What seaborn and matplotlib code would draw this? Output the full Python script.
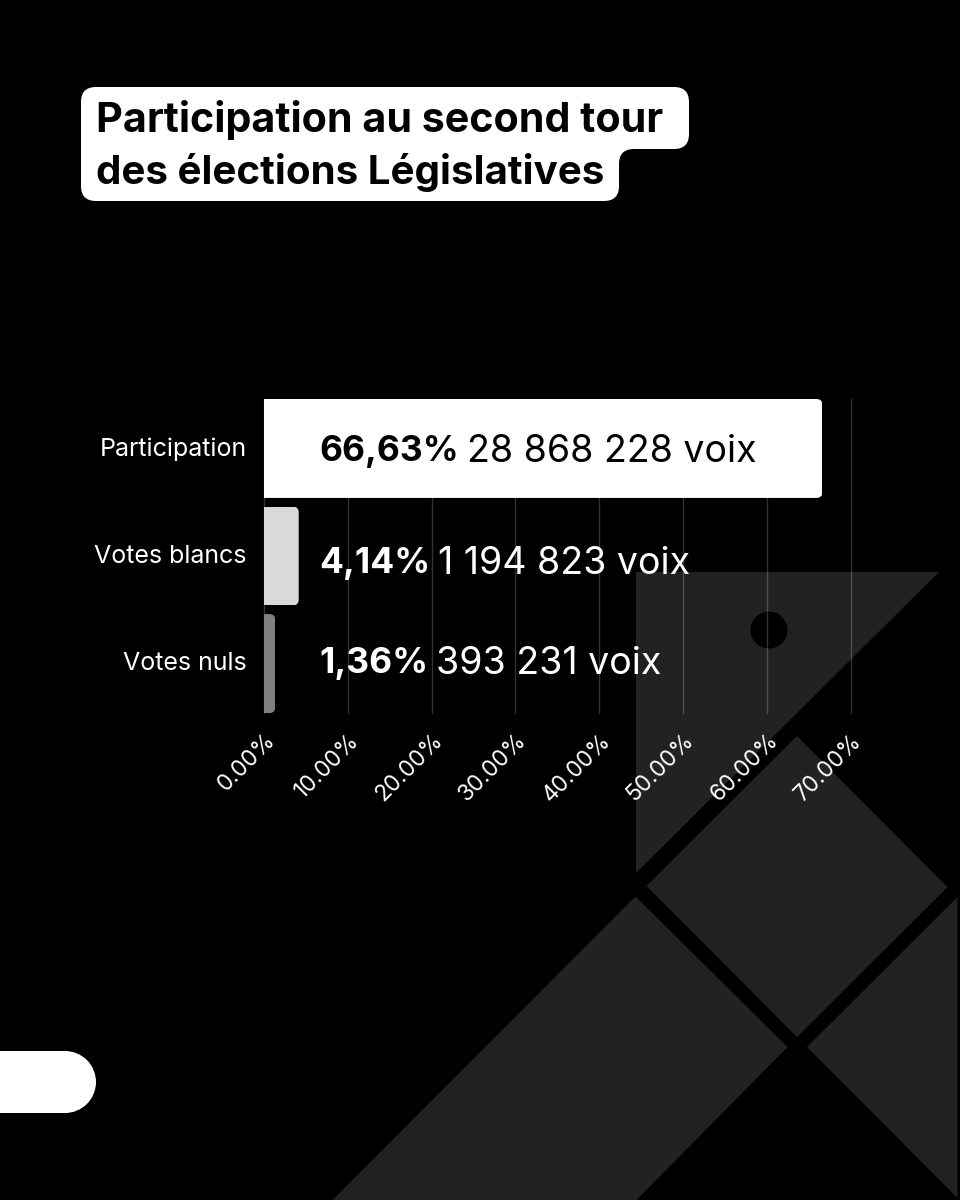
import matplotlib
matplotlib.use("Agg")
import matplotlib.pyplot as plt
import seaborn as sns
import pandas as pd
from matplotlib.patches import Polygon, Circle, FancyBboxPatch, PathPatch, Rectangle
from matplotlib.path import Path
from matplotlib.transforms import IdentityTransform, ScaledTranslation

categories = ["Participation", "Votes blancs", "Votes nuls"]
values = [66.63, 4.14, 1.36]
percent_labels = ["66,63%", "4,14%", "1,36%"]
vote_labels = ["28 868 228 voix", "1 194 823 voix", "393 231 voix"]
bar_colors = ["#ffffff", "#d9d9d9", "#7f7f7f"]
ticks = [0, 10, 20, 30, 40, 50, 60, 70]
tick_labels = ["0.00%", "10.00%", "20.00%", "30.00%", "40.00%", "50.00%", "60.00%", "70.00%"]
title_lines = ["Participation au second tour", "des élections Législatives"]

W, H = 960, 1200
FONT = "Inter"
sns.set_theme(style="dark")
plt.rcParams["font.family"] = [FONT, "DejaVu Sans"]

fig = plt.figure(figsize=(9.6, 12), dpi=100, facecolor="black")

# full-figure decoration layer in pixel coordinates
bg = fig.add_axes([0, 0, 1, 1], zorder=0)
bg.set_xlim(0, W); bg.set_ylim(H, 0); bg.axis("off")
SHAPE = "#222222"
for pts in [
    [(636, 572), (939, 572), (636, 873)],
    [(797, 736), (947.5, 887), (797, 1037), (646.5, 886)],
    [(635.5, 896.5), (787.5, 1047), (636.5, 1200), (332.5, 1200)],
    [(957.5, 897), (807, 1047), (957.5, 1198)],
]:
    bg.add_patch(Polygon(pts, closed=True, fc=SHAPE, ec="none"))
bg.add_patch(Circle((769, 630), 18.5, fc="black", ec="none"))

# bottom-left pill
bg.add_patch(Rectangle((0, 1051), 65, 62, fc="white", ec="none"))
bg.add_patch(Circle((65, 1082), 31, fc="white", ec="none"))


def rounded_poly(points, r):
    verts, codes = [], []
    n = len(points)
    for i in range(n):
        p0, p1, p2 = points[i - 1], points[i], points[(i + 1) % n]
        def toward(a, b):
            dx, dy = b[0] - a[0], b[1] - a[1]
            d = (dx * dx + dy * dy) ** 0.5
            return (a[0] + dx / d * r, a[1] + dy / d * r)
        a, b = toward(p1, p0), toward(p1, p2)
        verts += [a, p1, b]
        codes += [Path.LINETO if i else Path.MOVETO, Path.CURVE3, Path.CURVE3]
    verts.append(verts[0]); codes.append(Path.CLOSEPOLY)
    return Path(verts, codes)


title_box = [(81, 87), (689, 87), (689, 149), (619, 149), (619, 201), (81, 201)]
bg.add_patch(PathPatch(rounded_poly(title_box, 15), fc="white", ec="none"))
bg.text(96, 120, title_lines[0], color="black", fontsize=29.7, fontweight="bold", va="center", ha="left")
bg.text(96, 172.5, title_lines[1], color="black", fontsize=29, fontweight="bold", va="center", ha="left")

# chart
x0, x70, top, bottom = 264, 850.7, 399, 713
ax = fig.add_axes([x0 / W, 1 - bottom / H, (x70 - x0) / W, (bottom - top) / H], zorder=1)
ax.patch.set_alpha(0)
df = pd.DataFrame({"cat": categories, "val": values})
sns.barplot(data=df, x="val", y="cat", hue="cat", palette=bar_colors, legend=False,
            width=0.92, ax=ax, zorder=3, saturation=1, linewidth=0, edgecolor="none")
ax.set_xlim(0, 70)
ax.set_ylim(2.46, -0.46)
ax.set_xlabel(""); ax.set_ylabel("")
for s in ax.spines.values():
    s.set_visible(False)
ax.set_xticks(ticks)
ax.set_xticklabels(tick_labels, rotation=45, ha="right", rotation_mode="anchor",
                   color="white", fontsize=16.3, fontweight="normal")
ax.tick_params(axis="x", length=0, pad=12)
ax.tick_params(axis="y", length=0, pad=12.5, colors="white", labelsize=18)
for t in ax.get_yticklabels():
    t.set_fontweight("normal")
    t.set_transform(t.get_transform() + ScaledTranslation(0, 1.5 / 72, fig.dpi_scale_trans))
ax.grid(axis="x", color="white", alpha=0.2, lw=1, zorder=1, clip_on=False)
ax.grid(axis="y", visible=False)
ax.set_axisbelow(True)
for gl in ax.get_xgridlines():
    gl.set_clip_on(False)

# round the right-hand corners of the bars by clipping
fig.canvas.draw()
for bar in ax.patches:
    (xa, ya), (xb, yb) = ax.transData.transform(
        [(bar.get_x(), bar.get_y()), (bar.get_x() + bar.get_width(), bar.get_y() + bar.get_height())])
    ylo, yhi = min(ya, yb), max(ya, yb)
    clip = FancyBboxPatch((xa - 20, ylo), xb - xa + 20, yhi - ylo,
                          boxstyle="round,pad=0,rounding_size=6", transform=IdentityTransform())
    bar.set_clip_path(clip)

# value labels
label_x = 320
label_shift = [0, -4, 3.5]
for i, (p, v) in enumerate(zip(percent_labels, vote_labels)):
    col = "black" if i == 0 else "white"
    ypx = ax.transData.transform((0, i))[1] + label_shift[i]
    a = ax.annotate(p, xy=(label_x - 1, ypx), xycoords="figure pixels",
                    color=col, fontsize=25.5, fontweight="bold", va="center_baseline", ha="left", zorder=5)
    fig.canvas.draw()
    bb = a.get_window_extent()
    ax.annotate(v, xy=(bb.x1 + 8, ypx), xycoords="figure pixels",
                color=col, fontsize=27, fontweight="normal", va="center_baseline", ha="left", zorder=5)

fig.savefig("out.png", dpi=100, facecolor="black")
